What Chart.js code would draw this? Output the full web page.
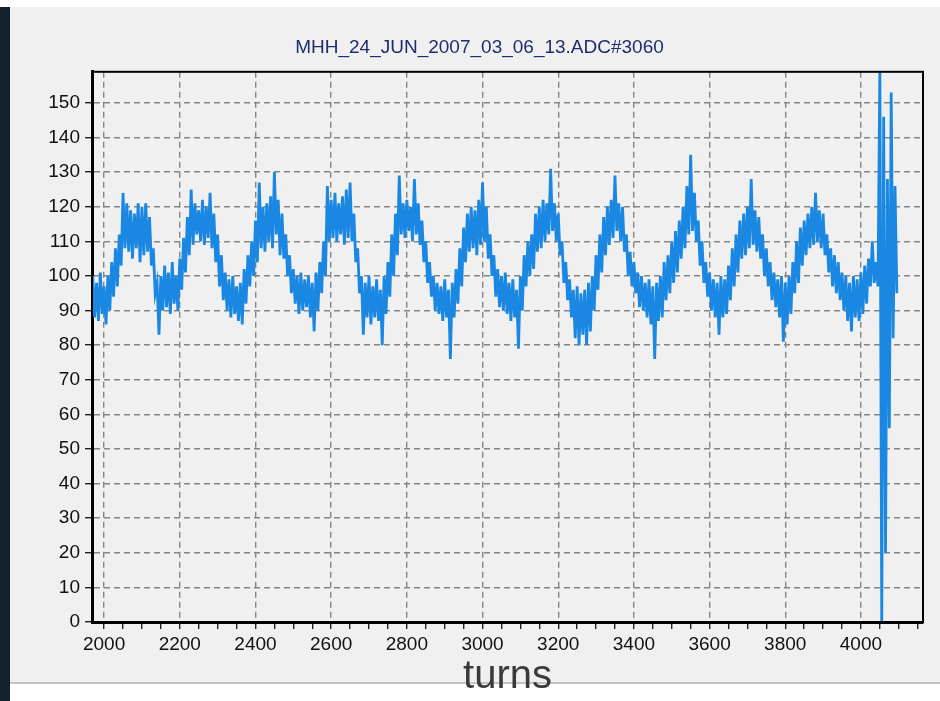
<!DOCTYPE html>
<html>
<head>
<meta charset="utf-8">
<script src="https://cdn.jsdelivr.net/npm/chart.js@4.4.0/dist/chart.umd.min.js"></script>
<style>
  html, body { margin: 0; padding: 0; }
  body { width: 940px; height: 701px; position: relative; overflow: hidden; background: #fff; }
  #strip { position: absolute; left: 0; top: 7px; width: 10px; height: 694px; background: #13212f; }
  #panel { position: absolute; left: 10px; top: 7px; width: 930px; height: 675px; background: #f0f0f0; border-bottom: 2px solid #c4c4c4; }
  #wrap { position: absolute; left: 10px; top: 0; width: 930px; height: 701px; }
</style>
</head>
<body>
<div id="strip"></div>
<div id="panel"></div>
<div id="wrap"><canvas id="adcChart" width="930" height="701"></canvas></div>
<script>
// signal every 10 turns: upper and lower edge of the noisy band
const turnStart = 1970;
const turnStep = 10;

const upper = [
  100, 98, 101, 97, 100, 104, 108, 112, 124, 121,
  119, 118, 121, 120, 121, 117, 108, 98, 100, 103,
  101, 104, 100, 105, 111, 117, 125, 121, 119, 122,
  120, 124, 118, 112, 106, 101, 99, 100, 97, 98,
  102, 106, 110, 116, 127, 120, 121, 123, 130, 122,
  118, 112, 106, 102, 100, 101, 99, 100, 98, 101,
  104, 110, 126, 122, 124, 121, 123, 125, 127, 118,
  108, 100, 98, 100, 97, 99, 96, 100, 104, 112,
  118, 129, 121, 122, 120, 128, 121, 116, 110, 104,
  100, 98, 97, 99, 96, 98, 102, 108, 114, 118,
  120, 119, 122, 127, 120, 112, 106, 102, 100, 101,
  98, 99, 96, 100, 106, 110, 112, 118, 120, 122,
  121, 131, 121, 118, 110, 104, 99, 96, 97, 95,
  96, 98, 100, 106, 112, 117, 120, 122, 129, 121,
  120, 112, 107, 104, 101, 100, 98, 99, 97, 98,
  100, 104, 106, 110, 113, 116, 120, 126, 135, 124,
  116, 110, 104, 101, 99, 98, 100, 99, 103, 108,
  112, 116, 118, 120, 128, 119, 117, 112, 108, 104,
  101, 99, 100, 98, 100, 104, 110, 114, 116, 118,
  120, 124, 119, 118, 112, 108, 106, 104, 101, 100,
  98, 100, 99, 101, 103, 105, 110, 104, 160, 146,
  128, 153, 126
];

const lower = [
  88, 87, 89, 86, 90, 94, 97, 103, 108, 107,
  105, 108, 104, 106, 107, 103, 95, 83, 90, 91,
  89, 92, 90, 96, 101, 106, 109, 112, 110, 109,
  111, 108, 104, 97, 93, 90, 88, 89, 87, 86,
  92, 97, 100, 104, 108, 107, 110, 108, 112, 106,
  105, 100, 95, 92, 89, 90, 91, 88, 84, 90,
  95, 100, 110, 111, 110, 112, 109, 111, 110, 104,
  95, 83, 88, 86, 88, 87, 80, 89, 94, 100,
  106, 112, 111, 113, 110, 112, 109, 104, 98, 94,
  90, 89, 87, 88, 76, 88, 92, 97, 104, 107,
  108, 106, 109, 110, 105, 100, 94, 91, 90, 89,
  87, 88, 79, 90, 97, 100, 102, 107, 108, 110,
  112, 113, 110, 106, 98, 93, 88, 82, 80, 83,
  80, 84, 90, 96, 101, 106, 109, 111, 113, 110,
  107, 100, 97, 95, 91, 90, 88, 86, 76, 87,
  88, 93, 95, 98, 101, 105, 108, 112, 113, 110,
  103, 98, 94, 90, 88, 83, 88, 89, 93, 97,
  101, 105, 106, 108, 109, 107, 105, 100, 97, 93,
  91, 88, 81, 86, 89, 95, 98, 103, 106, 108,
  109, 110, 108, 106, 101, 97, 95, 93, 90, 87,
  84, 88, 87, 89, 92, 97, 98, 97, 0, 20,
  56, 82, 95
];

const xLabels = [2000, 2200, 2400, 2600, 2800, 3000, 3200, 3400, 3600, 3800, 4000];
const xMinorStep = 50;
const yLabels = [0, 10, 20, 30, 40, 50, 60, 70, 80, 90, 100, 110, 120, 130, 140, 150];

// hi at the step, lo half a step later, so the trace zigzags like the raw adc signal
const points = [];
upper.forEach((hi, i) => {
  const t = turnStart + i * turnStep;
  points.push({ x: t, y: hi });
  points.push({ x: t + turnStep / 2, y: lower[i] });
});

const frame = {
  id: "frame",
  afterDraw(chart) {
    const a = chart.chartArea;
    const ctx = chart.ctx;
    ctx.save();
    ctx.strokeStyle = "#000";
    ctx.lineWidth = 2;
    ctx.strokeRect(a.left, a.top, a.right - a.left, a.bottom - a.top);
    ctx.restore();
  }
};

Chart.defaults.font.family = "'Liberation Sans', Arial, sans-serif";

new Chart(document.getElementById("adcChart"), {
  type: "line",
  data: {
    datasets: [{
      data: points,
      borderColor: "#1a87e2",
      borderWidth: 2.8,
      pointRadius: 0,
      tension: 0,
      fill: false
    }]
  },
  options: {
    responsive: false,
    animation: false,
    layout: { padding: { left: 26, right: 17, top: 0, bottom: 0 } },
    plugins: {
      legend: { display: false },
      tooltip: { enabled: false },
      title: {
        display: true,
        text: "MHH_24_JUN_2007_03_06_13.ADC#3060",
        color: "#1f2d6e",
        font: { size: 19, weight: "normal" },
        padding: { top: 36, bottom: 13 }
      }
    },
    scales: {
      x: {
        type: "linear",
        min: 1968,
        max: 4164,
        afterFit: s => { s.height = 79; },
        afterBuildTicks: s => {
          const ticks = [];
          for (let v = xLabels[0]; v < s.max; v += xMinorStep) ticks.push({ value: v });
          s.ticks = ticks;
        },
        ticks: {
          autoSkip: false,
          maxRotation: 0,
          padding: 4,
          color: "#111",
          font: { size: 19 },
          callback: v => (xLabels.includes(v) ? String(v) : "")
        },
        grid: {
          color: c => (c.tick && xLabels.includes(c.tick.value) ? "#858585" : "rgba(0,0,0,0)"),
          lineWidth: 1.4,
          tickColor: "#222",
          tickLength: 7
        },
        border: { display: true, color: "#000", width: 3, dash: [6, 4] },
        title: {
          display: true,
          text: "turns",
          color: "#3a3a3a",
          font: { size: 40 },
          padding: { top: 0, bottom: 0 }
        }
      },
      y: {
        min: 0,
        max: 159,
        afterFit: s => { s.width = 56; },
        afterBuildTicks: s => { s.ticks = yLabels.map(v => ({ value: v })); },
        ticks: {
          padding: 5,
          color: "#111",
          font: { size: 19 }
        },
        grid: {
          color: c => (c.tick && c.tick.value === 0 ? "rgba(0,0,0,0)" : "#858585"),
          lineWidth: 1.4,
          tickColor: "#222",
          tickLength: 7
        },
        border: { display: true, color: "#000", width: 3, dash: [6, 4] }
      }
    }
  },
  plugins: [frame]
});
</script>
</body>
</html>
